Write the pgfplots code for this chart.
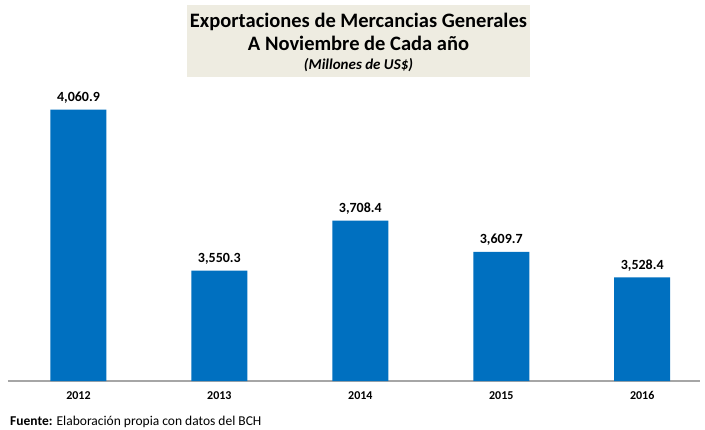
\documentclass[border=0pt]{standalone}
\usepackage{pgfplots}
\pgfplotsset{compat=1.18}
\usepackage{fontspec}
\setmainfont{Carlito}
\definecolor{barblue}{HTML}{0070C0}
\definecolor{titlebg}{HTML}{EEECE1}
\begin{document}
\begin{tikzpicture}[x=1pt,y=1pt]
\path[use as bounding box,fill=white] (0,0) rectangle (705,429);
\begin{axis}[
    at={(8pt,48pt)}, anchor=south west,
    scale only axis,
    width=692pt, height=315.3pt,
    ybar, bar width=56pt,
    xmin=-0.5, xmax=4.41,
    ymin=3200, ymax=4200,
    axis x line*=bottom,
    hide y axis,
    x axis line style={draw=gray!70, line width=1.2pt, -},
    xtick=data,
    xticklabels={2012,2013,2014,2015,2016},
    major tick length=0pt,
    xticklabel style={font=\bfseries\fontsize{12}{14}\selectfont, yshift=-7pt},
    nodes near coords,
    nodes near coords style={font=\bfseries\fontsize{14}{16}\selectfont, yshift=3pt,
        /pgf/number format/.cd, fixed, fixed zerofill, precision=1, 1000 sep={,}, assume math mode=true},
    clip=false,
]
\addplot[fill=barblue, draw=none] coordinates {
    (0, 4060.9) (1, 3550.3) (2, 3708.4) (3, 3609.7) (4, 3528.4)
};
\end{axis}
\node[fill=titlebg, minimum width=343pt, minimum height=72pt, inner sep=0pt] at (358.5,388) {};
\node[font=\bfseries\fontsize{20.5}{23}\selectfont, align=center] at (358.5,397.5) {Exportaciones de Mercancias Generales\\A Noviembre de Cada año};
\node[font=\bfseries\itshape\fontsize{15}{17}\selectfont] at (358.5,364) {(Millones de US\$)};
\node[anchor=west, font=\fontsize{13.5}{15}\selectfont, inner sep=0pt] at (10,7) {\textbf{Fuente:} Elaboración propia con datos del BCH};
\end{tikzpicture}
\end{document}
